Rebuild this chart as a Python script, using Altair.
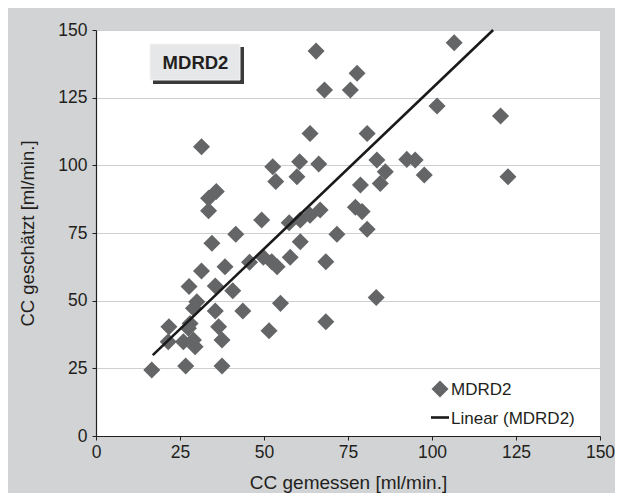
import altair as alt
import pandas as pd

# measured creatinine clearance (x) vs estimated MDRD2 (y)
cc_gemessen = [16.6, 21.7, 21.5, 26.0, 26.7, 28.0, 27.5, 29.0, 29.5, 30.0,
               29.0, 27.7, 31.4, 35.5, 35.5, 36.5, 37.5, 37.5, 38.4, 34.5,
               40.7, 41.6, 43.7, 45.7, 49.8, 52.3, 53.9, 54.9, 51.5, 57.8,
               49.3, 57.5, 60.8, 63.7, 66.7, 60.8, 68.4, 68.4, 71.7, 80.7,
               83.4, 77.2, 79.2, 33.5, 33.5, 35.8, 31.4, 52.6, 53.5, 60.6,
               59.8, 66.3, 63.7, 80.7, 65.5, 68.0, 75.7, 77.7, 78.7, 84.6,
               83.6, 86.1, 92.5, 95.0, 97.7, 101.5, 106.6, 120.4, 122.6]
cc_geschaetzt = [24.4, 40.4, 34.8, 34.8, 25.9, 41.6, 39.8, 35.5, 33.0, 49.6,
                 47.2, 55.2, 61.0, 55.4, 46.2, 40.4, 35.5, 25.9, 62.5, 71.2,
                 53.7, 74.5, 46.2, 64.2, 66.0, 64.4, 62.5, 49.0, 38.9, 66.0,
                 79.8, 78.8, 79.8, 81.6, 83.5, 71.8, 64.4, 42.2, 74.5, 76.4,
                 51.2, 84.5, 82.9, 83.2, 87.8, 90.3, 106.9, 99.5, 94.0, 101.3,
                 95.8, 100.5, 111.8, 111.8, 142.2, 127.8, 127.8, 134.0, 92.7, 93.3,
                 102.0, 97.6, 102.2, 102.0, 96.4, 121.9, 145.3, 118.2, 95.8]

# linear trend line endpoints (as drawn)
trend_x = [16.9, 118.2]
trend_y = [29.9, 150.0]

ticks = [0, 25, 50, 75, 100, 125, 150]
legend_labels = ["MDRD2", "Linear (MDRD2)"]
box_title = "MDRD2"

FONT = "Liberation Sans"
GREY_MARK = "#646566"
BG = "#d1d3d4"

pts = pd.DataFrame({"x": cc_gemessen, "y": cc_geschaetzt})
trend = pd.DataFrame({"x": trend_x, "y": trend_y})

xscale = alt.Scale(domain=[0, 150], nice=False, zero=True)
yscale = alt.Scale(domain=[0, 150], nice=False, zero=True)

xaxis = alt.Axis(values=ticks, grid=False, title="CC gemessen [ml/min.]",
                 domainColor="#231f20", domainWidth=1.2, tickColor="#231f20",
                 tickSize=4, labelPadding=3, labelFont=FONT, labelFontSize=17.5,
                 labelColor="#231f20", labelFlush=False, labelOverlap=False,
                 titleFont=FONT, titleFontSize=19,
                 titleFontWeight="normal", titleColor="#231f20",
                 titleBaseline="middle", titleY=46)
yaxis = alt.Axis(values=ticks, grid=True, gridColor="#cfcfcf", gridWidth=1.2,
                 title="CC geschätzt [ml/min.]",
                 domainColor="#231f20", domainWidth=1.2, tickColor="#231f20",
                 tickSize=4, labelPadding=5, labelFont=FONT, labelFontSize=17.5,
                 labelColor="#231f20", labelFlush=False, labelOverlap=False,
                 titleFont=FONT, titleFontSize=18.5,
                 titleFontWeight="normal", titleColor="#231f20",
                 titleAngle=270, titleBaseline="middle", titleAlign="center",
                 titleX=-69, titleY=203)

points = alt.Chart(pts).mark_point(shape="diamond", filled=True, size=290,
                                   color=GREY_MARK, opacity=1).encode(
    x=alt.X("x:Q", scale=xscale, axis=xaxis),
    y=alt.Y("y:Q", scale=yscale, axis=yaxis),
)

line = alt.Chart(trend).mark_line(color="#1a1a1a", strokeWidth=2.6).encode(
    x=alt.X("x:Q", scale=xscale),
    y=alt.Y("y:Q", scale=yscale),
)

# title box with 3D shadow
box_df = pd.DataFrame({"t": [box_title]})
shadow = alt.Chart(box_df).mark_rect(color="#3a3a3a").encode(
    x=alt.value(57), x2=alt.value(148), y=alt.value(17), y2=alt.value(54))
box = alt.Chart(box_df).mark_rect(color="#e6e7e8", stroke="#f4f4f4",
                                  strokeWidth=1).encode(
    x=alt.value(54), x2=alt.value(144), y=alt.value(14), y2=alt.value(50))
box_text = alt.Chart(box_df).mark_text(font=FONT, fontSize=18.5, fontWeight="bold",
                                       color="#231f20", align="center",
                                       baseline="middle").encode(
    x=alt.value(99.5), y=alt.value(33), text="t:N")

# manual legend
leg1 = pd.DataFrame({"t": [legend_labels[0]]})
leg2 = pd.DataFrame({"t": [legend_labels[1]]})
leg_sym = alt.Chart(leg1).mark_point(shape="diamond", filled=True, size=290,
                                     color=GREY_MARK, opacity=1).encode(
    x=alt.value(344), y=alt.value(359))
leg_txt1 = alt.Chart(leg1).mark_text(font=FONT, fontSize=17, color="#231f20",
                                     align="left", baseline="middle").encode(
    x=alt.value(355), y=alt.value(360), text="t:N")
leg_line = alt.Chart(leg2).mark_rule(color="#1a1a1a", strokeWidth=2.6).encode(
    x=alt.value(335), x2=alt.value(353), y=alt.value(387.5))
leg_txt2 = alt.Chart(leg2).mark_text(font=FONT, fontSize=17, color="#231f20",
                                     align="left", baseline="middle").encode(
    x=alt.value(355), y=alt.value(388.5), text="t:N")

chart = alt.layer(points, line, shadow, box, box_text,
                  leg_sym, leg_txt1, leg_line, leg_txt2).properties(
    width=504, height=406,
    autosize=alt.AutoSizeParams(type="none"),
    padding={"left": 88, "top": 22, "right": 15, "bottom": 57},
    background=BG,
).configure_view(stroke=None, fill="white")

chart.save("out.html", embed_options={"renderer": "svg", "actions": False})
